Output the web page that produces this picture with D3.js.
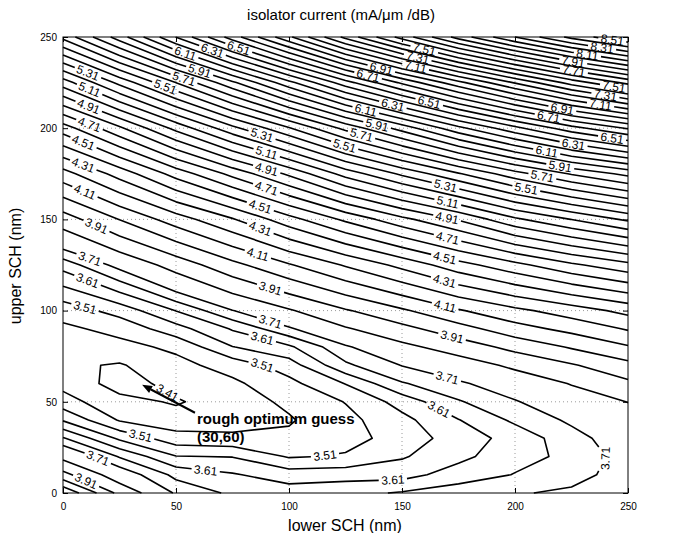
<!DOCTYPE html>
<html><head><meta charset="utf-8">
<script src="https://cdn.jsdelivr.net/npm/d3@7"></script>
<style>
body{margin:0;background:#fff;}
svg{display:block;font-family:"Liberation Sans",Arial,Helvetica,sans-serif;}
</style></head><body>
<svg id="chart" width="673" height="533"></svg>
<script>
// ---- data ----
const xGrid = [0,25,50,75,100,125,150,175,200,225,250];          // lower SCH (nm)
const yGrid = [0,10,20,30,40,50,60,70,80,90,100,125,150,175,200,225,250]; // upper SCH (nm)
const z_y0   = [4.20,3.88,3.70,3.65,3.635,3.645,3.665,3.685,3.705,3.72,3.75];
const z_y10  = [3.94,3.75,3.645,3.615,3.585,3.59,3.59,3.635,3.662,3.69,3.735];
const z_y20  = [3.78,3.655,3.562,3.558,3.505,3.515,3.555,3.595,3.645,3.67,3.735];
const z_y30  = [3.665,3.55,3.48,3.47,3.47,3.492,3.53,3.585,3.628,3.69,3.745];
const z_y40  = [3.555,3.455,3.43,3.44,3.455,3.495,3.545,3.608,3.67,3.72,3.77];
const z_y50  = [3.48,3.425,3.405,3.435,3.47,3.512,3.58,3.655,3.705,3.76,3.812];
const z_y60  = [3.445,3.39,3.425,3.45,3.495,3.562,3.655,3.70,3.75,3.815,3.89];
const z_y70  = [3.42,3.405,3.445,3.48,3.535,3.65,3.712,3.76,3.83,3.90,3.98];
const z_y80  = [3.435,3.445,3.47,3.558,3.60,3.70,3.785,3.855,3.94,4.02,4.10];
const z_y90  = [3.45,3.475,3.54,3.615,3.70,3.80,3.88,3.97,4.07,4.14,4.22];
const z_y100 = [3.48,3.53,3.612,3.708,3.80,3.90,3.995,4.10,4.185,4.26,4.34];
const z_y125 = [3.63,3.73,3.85,3.98,4.10,4.22,4.34,4.47,4.58,4.69,4.78];
const z_y150 = [3.86,4.012,4.16,4.30,4.47,4.63,4.78,4.92,5.09,5.212,5.33];
const z_y175 = [4.17,4.35,4.55,4.74,4.93,5.15,5.33,5.50,5.67,5.82,5.94];
const z_y200 = [4.56,4.79,5.04,5.28,5.50,5.74,5.95,6.18,6.38,6.57,6.72];
const z_y225 = [5.06,5.34,5.612,5.89,6.18,6.47,6.73,6.98,7.22,7.45,7.64];
const z_y250 = [5.64,5.96,6.312,6.66,6.99,7.34,7.65,7.95,8.21,8.44,8.62];
const zRows = [z_y0,z_y10,z_y20,z_y30,z_y40,z_y50,z_y60,z_y70,z_y80,z_y90,z_y100,z_y125,z_y150,z_y175,z_y200,z_y225,z_y250];

const contourLevels = [3.41,3.46,3.51,3.56,3.61,3.66,3.71,3.81,3.91,4.01,4.11,4.21,4.31,4.41,4.51,4.61,4.71,4.81,4.91,5.01,
  5.11,5.21,5.31,5.41,5.51,5.61,5.71,5.81,5.91,6.01,6.11,6.21,6.31,6.41,6.51,6.61,6.71,6.81,6.91,7.01,
  7.11,7.21,7.31,7.41,7.51,7.61,7.71,7.81,7.91,8.01,8.11,8.21,8.31,8.41,8.51];

// label placements: [level, approx x, approx y] (snapped onto the computed contour)
const labelSpots = [
 [3.41,48,59],
 [3.51,10,103],[3.51,88,69],[3.51,34,30],[3.51,116,20],
 [3.61,11,117],[3.61,88,84],[3.61,63,11],[3.61,146,6],[3.61,166,45],
 [3.71,12,129],[3.71,92,95],[3.71,170,63],[3.71,15,18],[3.71,240,19],
 [3.91,15,147],[3.91,92,113],[3.91,172,85],[3.91,10,6],
 [4.11,10,166],[4.11,86,130],[4.11,169,102],
 [4.31,9,180],[4.31,87,144],[4.31,169,117],
 [4.51,9,192],[4.51,87,156],[4.51,169,129],
 [4.71,12,203],[4.71,90,167],[4.71,170,139],
 [4.91,12,214],[4.91,90,177],[4.91,170,151],
 [5.11,12,222],[5.11,90,186],[5.11,170,158],
 [5.31,12,233.5],[5.31,88,196],[5.31,169,167],
 [5.51,46,225],[5.51,125,192],[5.51,205,167],
 [5.71,54,229],[5.71,132,196],[5.71,212,173],
 [5.91,61,233.5],[5.91,139,202],[5.91,220,179],
 [6.11,55,244],[6.11,134,210],[6.11,214,187],
 [6.31,67,245.5],[6.31,146,213],[6.31,226,192],
 [6.51,78,245],[6.51,162,214],[6.51,243,195],
 [6.71,135,229],[6.71,215,207],
 [6.91,141,233.5],[6.91,221,211],
 [7.11,156,233.5],[7.11,238,214],
 [7.31,157,239],[7.31,240,218],
 [7.51,160,244],[7.51,244,222.5],
 [7.71,226,231],[7.91,226,238.5],[8.11,232,240],[8.31,238.5,244],[8.51,243,248]
];
const xTicks = [0,50,100,150,200,250];
const yTicks = [0,50,100,150,200,250];
const arrowFromTo = [[58.4,44.0],[35.0,59.3]];

// ---- layout ----
const M = {l:63, r:628, t:37, b:493};
const svg = d3.select('#chart');
const x = d3.scaleLinear().domain([0,250]).range([M.l,M.r]);
const y = d3.scaleLinear().domain([0,250]).range([M.b,M.t]);

// grid (dotted)
const gridG = svg.append('g').attr('stroke','#9a9a9a').attr('stroke-width',1).attr('stroke-dasharray','1,3');
xTicks.slice(1,-1).forEach(v=>gridG.append('line').attr('x1',x(v)).attr('x2',x(v)).attr('y1',M.t).attr('y2',M.b));
yTicks.slice(1,-1).forEach(v=>gridG.append('line').attr('y1',y(v)).attr('y2',y(v)).attr('x1',M.l).attr('x2',M.r));

// ---- contours ----
const n = xGrid.length, m = yGrid.length;
const values = zRows.flat();
const gx = d3.scaleLinear().domain(xGrid.map((_,i)=>i+0.5)).range(xGrid);
const gy = d3.scaleLinear().domain(yGrid.map((_,i)=>i+0.5)).range(yGrid);
const cont = d3.contours().size([n,m]).thresholds(contourLevels)(values);

const lines = [];
const eps = 1e-6;
cont.forEach(c=>{
  c.coordinates.forEach(poly=>poly.forEach(ring=>{
    const pts = ring.slice(0,-1).map(([i,j])=>{
      const dx=gx(i), dy=gy(j);
      return {inside: dx>=-eps && dx<=250+eps && dy>=-eps && dy<=250+eps, p:[x(dx),y(dy)]};
    });
    const k = pts.findIndex(p=>!p.inside);
    if(k<0){ lines.push({level:c.value, pts:pts.map(p=>p.p), closed:true}); return; }
    const rot = pts.slice(k).concat(pts.slice(0,k));
    let cur=null;
    rot.forEach(p=>{
      if(p.inside){ if(!cur) cur=[]; cur.push(p.p); }
      else { if(cur && cur.length>1) lines.push({level:c.value, pts:cur, closed:false}); cur=null; }
    });
    if(cur && cur.length>1) lines.push({level:c.value, pts:cur, closed:false});
  }));
});

function prep(L){
  const P = L.closed ? L.pts.concat([L.pts[0]]) : L.pts;
  const S=[0];
  for(let i=1;i<P.length;i++) S.push(S[i-1]+Math.hypot(P[i][0]-P[i-1][0],P[i][1]-P[i-1][1]));
  L.P=P; L.S=S; L.len=S[S.length-1]; L.gaps=[];
}
lines.forEach(prep);
function at(L,s){
  const {P,S,len}=L;
  if(L.closed) s=((s%len)+len)%len; else s=Math.max(0,Math.min(len,s));
  let i=d3.bisectRight(S,s); if(i>=S.length) i=S.length-1; if(i<1) i=1;
  const t=(s-S[i-1])/((S[i]-S[i-1])||1);
  return [P[i-1][0]+t*(P[i][0]-P[i-1][0]), P[i-1][1]+t*(P[i][1]-P[i-1][1])];
}
function sub(L,a,b){
  const pts=[at(L,a)]; const {S,P,len}=L;
  if(!L.closed){ for(let i=0;i<S.length;i++) if(S[i]>a && S[i]<b) pts.push(P[i]); }
  else { for(let k=0;k<2;k++) for(let i=0;i<S.length-1;i++){ const s=S[i]+k*len; if(s>a && s<b) pts.push(P[i]); } }
  pts.push(at(L,b)); return pts;
}

// measure label text
const FS = 12;
const meas = svg.append('text').attr('font-size',FS).attr('visibility','hidden');
function textW(s){ meas.text(s); return meas.node().getComputedTextLength(); }

const labels=[];
labelSpots.forEach(([lev,lx,ly])=>{
  const tx=x(lx), ty=y(ly);
  let best=null;
  lines.forEach(L=>{
    if(Math.abs(L.level-lev)>1e-6) return;
    for(let i=1;i<L.P.length;i++){
      const a=L.P[i-1], b=L.P[i];
      const vx=b[0]-a[0], vy=b[1]-a[1]; const l2=vx*vx+vy*vy||1;
      let t=((tx-a[0])*vx+(ty-a[1])*vy)/l2; t=Math.max(0,Math.min(1,t));
      const px=a[0]+t*vx, py=a[1]+t*vy; const d=Math.hypot(px-tx,py-ty);
      if(!best||d<best.d) best={d,L,s:L.S[i-1]+t*(L.S[i]-L.S[i-1])};
    }
  });
  if(!best) return;
  const txt=lev.toFixed(2); const w=textW(txt); const hw=w/2+2.5;
  const L=best.L; let s=best.s;
  if(!L.closed) s=Math.max(hw,Math.min(L.len-hw,s));
  const p1=at(L,s-w/2), p2=at(L,s+w/2), pc=at(L,s);
  let ang=Math.atan2(p2[1]-p1[1],p2[0]-p1[0])*180/Math.PI;
  if(ang>90) ang-=180; if(ang<-90) ang+=180;
  L.gaps.push([s-hw,s+hw]);
  labels.push({txt,pc,ang});
});
meas.remove();

const lineGen = d3.line();
const cg = svg.append('g').attr('fill','none').attr('stroke','#000').attr('stroke-width',1.6).attr('stroke-linejoin','round');
lines.forEach(L=>{
  const segs=[];
  if(!L.gaps.length){
    cg.append('path').attr('d', lineGen(L.pts)+(L.closed?'Z':''));
    return;
  }
  if(!L.closed){
    const g=L.gaps.slice().sort((a,b)=>a[0]-b[0]);
    let start=0;
    g.forEach(([a,b])=>{ if(a>start) segs.push([start,a]); start=Math.max(start,b); });
    if(start<L.len) segs.push([start,L.len]);
  } else {
    const g=L.gaps.map(([a,b])=>{const aa=((a%L.len)+L.len)%L.len; return [aa,aa+(b-a)];}).sort((a,b)=>a[0]-b[0]);
    for(let i=0;i<g.length;i++){
      const nx = i<g.length-1 ? g[i+1][0] : g[0][0]+L.len;
      if(nx>g[i][1]) segs.push([g[i][1],nx]);
    }
  }
  segs.forEach(([a,b])=>cg.append('path').attr('d',lineGen(sub(L,a,b))));
});

svg.append('g').selectAll('text').data(labels).join('text')
  .attr('transform',d=>`translate(${d.pc[0]},${d.pc[1]}) rotate(${d.ang})`)
  .attr('text-anchor','middle').attr('dy','0.35em')
  .attr('font-size',FS).attr('fill','#000').text(d=>d.txt);

// ---- axes ----
const axG = svg.append('g').attr('font-size',13.5);
const bx = axG.append('g').attr('transform',`translate(0,${M.b})`)
  .call(d3.axisBottom(x).tickValues(xTicks).tickSize(-5).tickPadding(10));
const lx = axG.append('g').attr('transform',`translate(${M.l},0)`)
  .call(d3.axisLeft(y).tickValues(yTicks).tickSize(-5).tickPadding(6));
const tx = axG.append('g').attr('transform',`translate(0,${M.t})`)
  .call(d3.axisTop(x).tickValues(xTicks).tickSize(-5).tickFormat(''));
const rx = axG.append('g').attr('transform',`translate(${M.r},0)`)
  .call(d3.axisRight(y).tickValues(yTicks).tickSize(-5).tickFormat(''));
[bx,lx,tx,rx].forEach(g=>{ g.select('.domain').remove(); g.selectAll('text').attr('font-family','"Liberation Sans",Arial,sans-serif').attr('fill','#000'); g.selectAll('line').attr('stroke','#000'); });
svg.append('rect').attr('x',M.l).attr('y',M.t).attr('width',M.r-M.l).attr('height',M.b-M.t)
  .attr('fill','none').attr('stroke','#000').attr('stroke-width',1);

// ---- titles ----
svg.append('text').attr('x',341).attr('y',20).attr('text-anchor','middle').attr('font-size',15)
  .text('isolator current (mA/\u03bcm /dB)');
svg.append('text').attr('x',345).attr('y',531).attr('text-anchor','middle').attr('font-size',16)
  .text('lower SCH (nm)');
svg.append('text').attr('transform','translate(21,266) rotate(-90)').attr('text-anchor','middle').attr('font-size',16)
  .text('upper SCH (nm)');

// ---- annotation ----
const [af,ah] = arrowFromTo;
const ax0=x(af[0]), ay0=y(af[1]), ax1=x(ah[0]), ay1=y(ah[1]);
const aang=Math.atan2(ay1-ay0,ax1-ax0);
const hl=10, hwid=4;
const bxp=ax1-hl*Math.cos(aang), byp=ay1-hl*Math.sin(aang);
svg.append('line').attr('x1',ax0).attr('y1',ay0).attr('x2',bxp).attr('y2',byp).attr('stroke','#000').attr('stroke-width',2);
svg.append('path').attr('d',`M${ax1},${ay1}L${bxp+hwid*Math.sin(aang)},${byp-hwid*Math.cos(aang)}L${bxp-hwid*Math.sin(aang)},${byp+hwid*Math.cos(aang)}Z`).attr('fill','#000');
svg.append('text').attr('x',197).attr('y',424).attr('font-size',15).attr('font-weight','bold').text('rough optimum guess');
svg.append('text').attr('x',197).attr('y',442).attr('font-size',15).attr('font-weight','bold').text('(30,60)');
</script>
</body></html>
